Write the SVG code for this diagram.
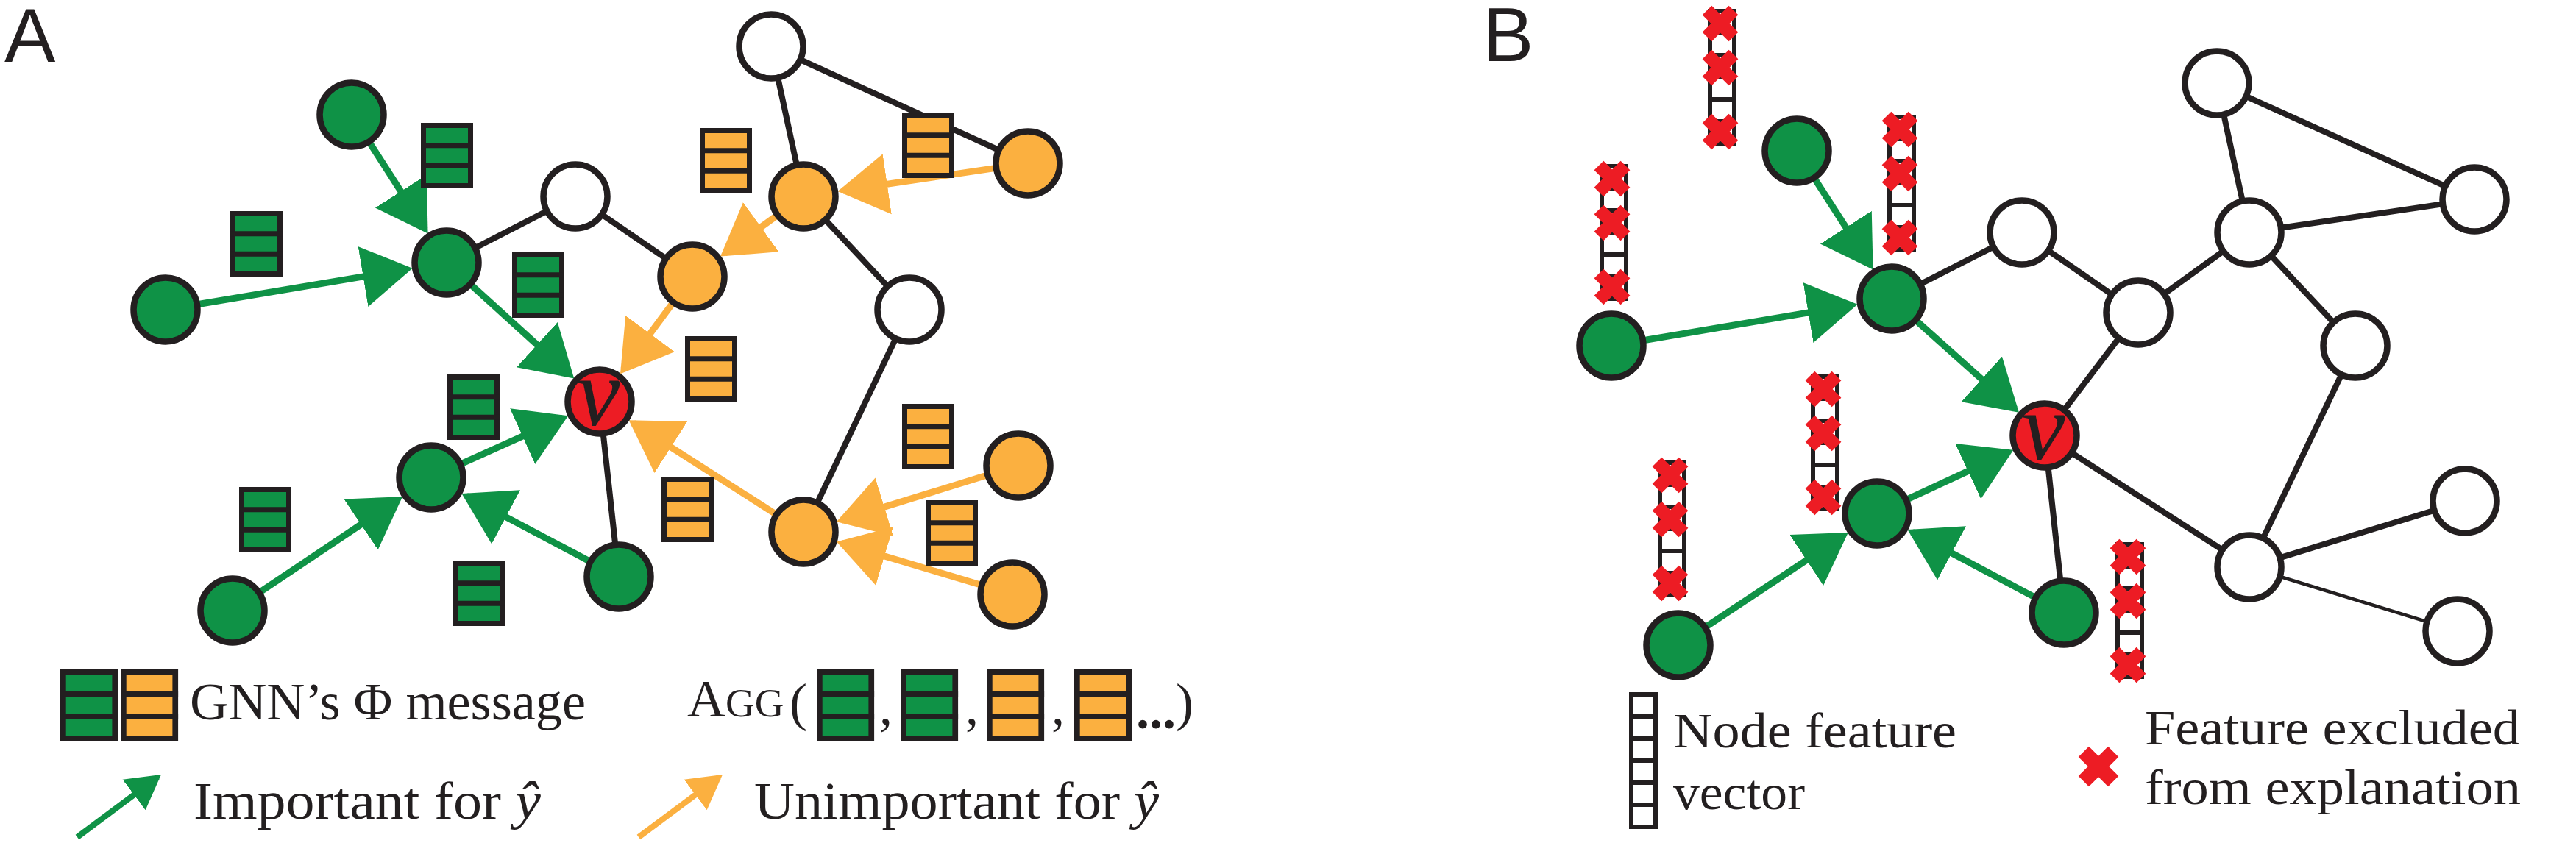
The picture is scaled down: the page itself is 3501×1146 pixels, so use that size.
<svg xmlns="http://www.w3.org/2000/svg" xmlns:xlink="http://www.w3.org/1999/xlink" width="3501" height="1146" viewBox="0 0 3501 1146">
<style>
.nd{stroke:#231f20;stroke-width:8.5}
.g{fill:#0f9246}.o{fill:#fbb040}.w{fill:#fff}.r{fill:#ed1c24}
.e{stroke:#231f20;stroke-width:8;fill:none}
.et{stroke:#231f20;stroke-width:4.5;fill:none}
.ag{stroke:#0f9246;stroke-width:9;fill:none;marker-end:url(#ahG)}
.ao{stroke:#fbb040;stroke-width:9;fill:none;marker-end:url(#ahO)}
.lab{font-family:"Liberation Sans",Arial,sans-serif;font-size:104px;fill:#231f20}
.vt{font-family:"Liberation Serif","Times New Roman",serif;font-style:italic;font-size:132px;fill:#231f20;text-anchor:middle}
.t{font-family:"Liberation Serif","Times New Roman",serif;font-size:72px;fill:#231f20}
.tb{font-family:"Liberation Serif","Times New Roman",serif;font-size:68px;fill:#231f20}
</style>
<defs>
<marker id="ahG" markerUnits="userSpaceOnUse" markerWidth="70" markerHeight="86" viewBox="0 -43 70 86" refX="61" refY="0" orient="auto"><path d="M0,-41.5L68,0L0,41.5z" fill="#0f9246"/></marker>
<marker id="ahO" markerUnits="userSpaceOnUse" markerWidth="70" markerHeight="86" viewBox="0 -43 70 86" refX="61" refY="0" orient="auto"><path d="M0,-41.5L68,0L0,41.5z" fill="#fbb040"/></marker>
<marker id="ahGs" markerUnits="userSpaceOnUse" markerWidth="48" markerHeight="54" viewBox="0 -27 48 54" refX="40" refY="0" orient="auto"><path d="M0,-26L46,0L0,26z" fill="#0f9246"/></marker>
<marker id="ahOs" markerUnits="userSpaceOnUse" markerWidth="48" markerHeight="54" viewBox="0 -27 48 54" refX="40" refY="0" orient="auto"><path d="M0,-26L46,0L0,26z" fill="#fbb040"/></marker>
<g id="msgG"><rect x="3.5" y="3.5" width="64" height="82" fill="#0f9246" stroke="#231f20" stroke-width="7"/><path d="M0,30.8H71M0,58.2H71" stroke="#231f20" stroke-width="7"/></g>
<g id="msgO"><rect x="3.5" y="3.5" width="64" height="82" fill="#fbb040" stroke="#231f20" stroke-width="7"/><path d="M0,30.8H71M0,58.2H71" stroke="#231f20" stroke-width="7"/></g>
<g id="xm"><path d="M-18,-18L18,18M18,-18L-18,18" stroke="#ed1c24" stroke-width="18"/></g>
<g id="fv"><rect x="3" y="3" width="33" height="180" fill="#fff" stroke="#231f20" stroke-width="6"/><path d="M3,33H36M3,63H36M3,93H36M3,123H36M3,153H36" stroke="#231f20" stroke-width="6"/></g>
<g id="fvx"><use href="#fv"/><use href="#xm" x="17" y="20"/><use href="#xm" x="17" y="80"/><use href="#xm" x="17" y="167"/></g>
</defs>

<rect width="3501" height="1146" fill="#fff"/>

<text class="lab" x="6" y="84">A</text>
<text class="lab" x="2015" y="83">B</text>

<g id="connectors">
<line class="e" x1="607" y1="357" x2="782" y2="267"/>
<line class="e" x1="782" y1="267" x2="941" y2="376"/>
<line class="e" x1="1048" y1="63" x2="1092" y2="267"/>
<line class="e" x1="1048" y1="63" x2="1397" y2="222"/>
<line class="e" x1="1092" y1="267" x2="1236" y2="421"/>
<line class="e" x1="1236" y1="421" x2="1092" y2="723"/>
<line class="e" x1="815" y1="546" x2="841" y2="784"/>
<line class="ag" x1="503.4" y1="195.6" x2="577.8" y2="311.5"/>
<line class="ag" x1="271.4" y1="413.2" x2="553.7" y2="365.9"/>
<line class="ag" x1="641.8" y1="388.6" x2="775.0" y2="509.7"/>
<line class="ag" x1="628.9" y1="629.7" x2="765.8" y2="568.1"/>
<line class="ag" x1="355.0" y1="803.8" x2="541.2" y2="679.1"/>
<line class="ag" x1="799.5" y1="762.0" x2="633.7" y2="674.3"/>
<line class="ao" x1="1350.5" y1="228.9" x2="1145.4" y2="259.1"/>
<line class="ao" x1="1053.9" y1="294.5" x2="984.8" y2="344.4"/>
<line class="ao" x1="913.0" y1="413.8" x2="847.2" y2="502.6"/>
<line class="ao" x1="1052.4" y1="697.7" x2="860.5" y2="575.1"/>
<line class="ao" x1="1339.1" y1="646.8" x2="1143.6" y2="707.1"/>
<line class="ao" x1="1331.0" y1="794.5" x2="1143.7" y2="738.5"/>
<line class="e" x1="2571" y1="406" x2="2748" y2="316"/>
<line class="e" x1="2748" y1="316" x2="2906" y2="425"/>
<line class="e" x1="2906" y1="425" x2="3057" y2="316"/>
<line class="e" x1="3057" y1="316" x2="3013" y2="113"/>
<line class="e" x1="3013" y1="113" x2="3363" y2="271"/>
<line class="e" x1="3057" y1="316" x2="3363" y2="271"/>
<line class="e" x1="3057" y1="316" x2="3201" y2="470"/>
<line class="e" x1="2906" y1="425" x2="2779" y2="592"/>
<line class="e" x1="3201" y1="470" x2="3057" y2="771"/>
<line class="e" x1="2779" y1="592" x2="3057" y2="771"/>
<line class="e" x1="2779" y1="592" x2="2805" y2="833"/>
<line class="e" x1="3057" y1="771" x2="3350" y2="681"/>
<line class="et" x1="3057" y1="771" x2="3340" y2="858"/>
<line class="ag" x1="2467.4" y1="244.6" x2="2541.8" y2="360.5"/>
<line class="ag" x1="2236.4" y1="462.2" x2="2517.7" y2="414.9"/>
<line class="ag" x1="2606.0" y1="437.3" x2="2738.7" y2="556.0"/>
<line class="ag" x1="2593.6" y1="678.2" x2="2730.0" y2="614.8"/>
<line class="ag" x1="2320.2" y1="851.0" x2="2506.0" y2="727.8"/>
<line class="ag" x1="2763.5" y1="810.9" x2="2598.7" y2="723.3"/>
</g>

<g id="a-g1"><circle class="nd g" cx="478" cy="156" r="43.5"/></g>
<g id="a-g2"><circle class="nd g" cx="225" cy="421" r="43.5"/></g>
<g id="a-hub"><circle class="nd g" cx="607" cy="357" r="43.5"/></g>
<g id="a-w1"><circle class="nd w" cx="782" cy="267" r="43.5"/></g>
<g id="a-w2"><circle class="nd w" cx="1048" cy="63" r="43.5"/></g>
<g id="a-o1"><circle class="nd o" cx="1092" cy="267" r="43.5"/></g>
<g id="a-o2"><circle class="nd o" cx="1397" cy="222" r="43.5"/></g>
<g id="a-o3"><circle class="nd o" cx="941" cy="376" r="43.5"/></g>
<g id="a-w3"><circle class="nd w" cx="1236" cy="421" r="43.5"/></g>
<g id="a-v"><circle class="nd r" cx="815" cy="546" r="43.5"/><text class="vt" x="813" y="578">v</text></g>
<g id="a-g3"><circle class="nd g" cx="586" cy="649" r="43.5"/></g>
<g id="a-g4"><circle class="nd g" cx="316" cy="830" r="43.5"/></g>
<g id="a-g5"><circle class="nd g" cx="841" cy="784" r="43.5"/></g>
<g id="a-o4"><circle class="nd o" cx="1092" cy="723" r="43.5"/></g>
<g id="a-o5"><circle class="nd o" cx="1384" cy="633" r="43.5"/></g>
<g id="a-o6"><circle class="nd o" cx="1376" cy="808" r="43.5"/></g>

<g id="a-messages">
<use href="#msgG" x="572" y="167"/>
<use href="#msgG" x="313" y="287"/>
<use href="#msgG" x="696" y="343"/>
<use href="#msgG" x="608" y="509"/>
<use href="#msgG" x="325" y="662"/>
<use href="#msgG" x="616" y="762"/>
<use href="#msgO" x="951" y="174"/>
<use href="#msgO" x="1226" y="153"/>
<use href="#msgO" x="931" y="457"/>
<use href="#msgO" x="899" y="648"/>
<use href="#msgO" x="1226" y="549"/>
<use href="#msgO" x="1258" y="680"/>
</g>

<g id="a-legend">
<use href="#msgG" transform="translate(82,910) scale(1.1)"/>
<use href="#msgO" transform="translate(164,910) scale(1.1)"/>
<text class="t" x="258" y="978" textLength="538" lengthAdjust="spacingAndGlyphs">GNN’s Φ message</text>
<text class="t" x="934" y="974"><tspan font-size="72">A</tspan><tspan font-size="55">GG</tspan></text>
<text class="t" x="1073" y="979">(</text>
<use href="#msgG" transform="translate(1110,910) scale(1.1)"/>
<text class="t" x="1195" y="984">,</text>
<use href="#msgG" transform="translate(1224,910) scale(1.1)"/>
<text class="t" x="1312" y="984">,</text>
<use href="#msgO" transform="translate(1341,910) scale(1.1)"/>
<text class="t" x="1429" y="984">,</text>
<use href="#msgO" transform="translate(1460,910) scale(1.1)"/>
<text class="t" x="1544" y="990" font-size="58" font-weight="bold">...</text>
<text class="t" x="1598" y="979">)</text>
<line x1="105" y1="1138" x2="214.2" y2="1056.6" stroke="#0f9246" stroke-width="8" marker-end="url(#ahGs)"/>
<text class="t" x="263" y="1113" textLength="472" lengthAdjust="spacingAndGlyphs">Important for <tspan font-style="italic">ŷ</tspan></text>
<line x1="868" y1="1138" x2="977.2" y2="1056.6" stroke="#fbb040" stroke-width="8" marker-end="url(#ahOs)"/>
<text class="t" x="1025" y="1113" textLength="550" lengthAdjust="spacingAndGlyphs">Unimportant for <tspan font-style="italic">ŷ</tspan></text>
</g>

<g id="b-g1"><circle class="nd g" cx="2442" cy="205" r="43.5"/></g>
<g id="b-g2"><circle class="nd g" cx="2190" cy="470" r="43.5"/></g>
<g id="b-hub"><circle class="nd g" cx="2571" cy="406" r="43.5"/></g>
<g id="b-w1"><circle class="nd w" cx="2748" cy="316" r="43.5"/></g>
<g id="b-w2"><circle class="nd w" cx="3013" cy="113" r="43.5"/></g>
<g id="b-w3"><circle class="nd w" cx="3363" cy="271" r="43.5"/></g>
<g id="b-w4"><circle class="nd w" cx="3057" cy="316" r="43.5"/></g>
<g id="b-w5"><circle class="nd w" cx="2906" cy="425" r="43.5"/></g>
<g id="b-w6"><circle class="nd w" cx="3201" cy="470" r="43.5"/></g>
<g id="b-v"><circle class="nd r" cx="2779" cy="592" r="43.5"/><text class="vt" x="2777" y="625">v</text></g>
<g id="b-g3"><circle class="nd g" cx="2551" cy="698" r="43.5"/></g>
<g id="b-g4"><circle class="nd g" cx="2281" cy="877" r="43.5"/></g>
<g id="b-g5"><circle class="nd g" cx="2805" cy="833" r="43.5"/></g>
<g id="b-w7"><circle class="nd w" cx="3057" cy="771" r="43.5"/></g>
<g id="b-w8"><circle class="nd w" cx="3350" cy="681" r="43.5"/></g>
<g id="b-w9"><circle class="nd w" cx="3340" cy="858" r="43.5"/></g>

<g id="b-features">
<use href="#fvx" x="2321" y="12"/>
<use href="#fvx" x="2174" y="223"/>
<use href="#fvx" x="2565" y="156"/>
<use href="#fvx" x="2461" y="509"/>
<use href="#fvx" x="2253" y="626"/>
<use href="#fvx" x="2875" y="737"/>
</g>

<g id="b-legend">
<use href="#fv" x="2214" y="941"/>
<text class="tb" x="2274" y="1016" textLength="385" lengthAdjust="spacingAndGlyphs">Node feature</text>
<text class="tb" x="2274" y="1100" textLength="179" lengthAdjust="spacingAndGlyphs">vector</text>
<use href="#xm" transform="translate(2852,1042) scale(1.12)"/>
<text class="tb" x="2915" y="1012" textLength="510" lengthAdjust="spacingAndGlyphs">Feature excluded</text>
<text class="tb" x="2915" y="1093" textLength="511" lengthAdjust="spacingAndGlyphs">from explanation</text>
</g>
</svg>
